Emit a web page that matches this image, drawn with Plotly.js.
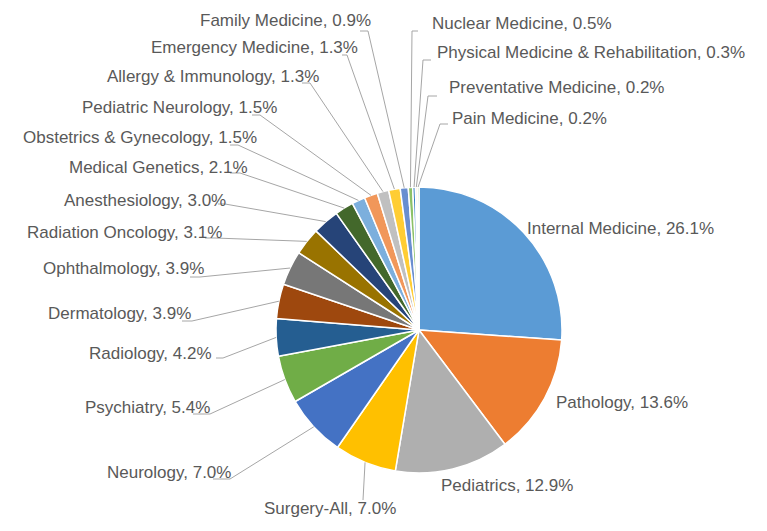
<!DOCTYPE html>
<html><head><meta charset="utf-8">
<script src="https://cdn.plot.ly/plotly-3.0.1.min.js"></script>
<style>html,body{margin:0;padding:0;background:#fff}</style>
</head><body><div id="chart" style="width:767px;height:531px"></div>
<script>
// ---- data ----
const categories = ["Internal Medicine","Pathology","Pediatrics","Surgery-All","Neurology","Psychiatry","Radiology","Dermatology","Ophthalmology","Radiation Oncology","Anesthesiology","Medical Genetics","Obstetrics & Gynecology","Pediatric Neurology","Allergy & Immunology","Emergency Medicine","Family Medicine","Nuclear Medicine","Physical Medicine & Rehabilitation","Preventative Medicine","Pain Medicine"];
const values = [26.1,13.6,12.9,7.0,7.0,5.4,4.2,3.9,3.9,3.1,3.0,2.1,1.5,1.5,1.3,1.3,0.9,0.5,0.3,0.2,0.2];
const colors = ["#5B9BD5","#ED7D31","#AFAFAF","#FFC000","#4472C4","#70AD47","#255E91","#9E480E","#777777","#997300","#264478","#43682B","#7CAFDD","#F1975A","#C0C0C0","#FFCD33","#698ED0","#8CC168","#327DC2","#F4B183","#A9D18E"];

// ---- label layout (pixels) ----
const labelX = [527,556,441,330,231,210,212,191,204,222,226,248,257,277,319,358,371,432,437,449,452];
const labelY = [228,402,485,508,472,407,353,313,268,232,200,167,137,107,76,47,20,23,52,87,118];
const labelAnchor = ["left","left","left","center","right","right","right","right","right","right","right","right","right","right","right","right","right","left","left","left","left"];
const elbowX = [null,null,null,363,230,210,223,192,200,215,225,240,238,260,310,347,368,412,423,428,440];
const elbowY = [null,null,null,500,479,414,358,321,277,238,204,173,145,115,83,55,31,31,60,96,124];
const stubX  = [null,null,null,363,213,193,216,182,190,205,218,230,230,252,302,342,360,418,431,437,448];

const W = 767, H = 531, CX = 419, CY = 330, R = 143;

const total = values.reduce((a,b)=>a+b,0);
const shapes = [];
const annotations = [];
let cum = 0;
values.forEach((v,i)=>{
  const th = 2*Math.PI*(cum + v/2)/total;
  cum += v;
  const ex = CX + R*Math.sin(th), ey = CY - R*Math.cos(th);
  if (elbowX[i] !== null) {
    shapes.push({type:'path', xref:'x', yref:'y', layer:'above',
      path:`M ${ex},${ey} L ${elbowX[i]},${elbowY[i]} L ${stubX[i]},${elbowY[i]}`,
      line:{color:'#A6A6A6', width:1}});
  }
  annotations.push({x:labelX[i], y:labelY[i], xref:'x', yref:'y', xanchor:labelAnchor[i], yanchor:'middle',
    text:`${categories[i]}, ${v.toFixed(1)}%`, showarrow:false, borderpad:0, borderwidth:0,
    font:{family:'"Liberation Sans", Arial, sans-serif', size:17, color:'#595959'}});
});

const pie = {
  type:'pie', labels:categories, values:values, sort:false, direction:'clockwise', rotation:0,
  marker:{colors:colors, line:{color:'#FFFFFF', width:1.5}},
  textinfo:'none', hoverinfo:'label+percent', showlegend:false,
  domain:{x:[(CX-R)/W,(CX+R)/W], y:[1-(CY+R)/H, 1-(CY-R)/H]}
};
const dummy = {type:'scatter', x:[], y:[], showlegend:false, hoverinfo:'skip'};

Plotly.newPlot('chart',[pie,dummy],{
  width:W, height:H, margin:{l:0,r:0,t:0,b:0},
  paper_bgcolor:'#FFFFFF', plot_bgcolor:'rgba(0,0,0,0)',
  xaxis:{range:[0,W], visible:false, fixedrange:true},
  yaxis:{range:[H,0], visible:false, fixedrange:true},
  shapes:shapes, annotations:annotations, showlegend:false
},{staticPlot:true});
</script></body></html>
